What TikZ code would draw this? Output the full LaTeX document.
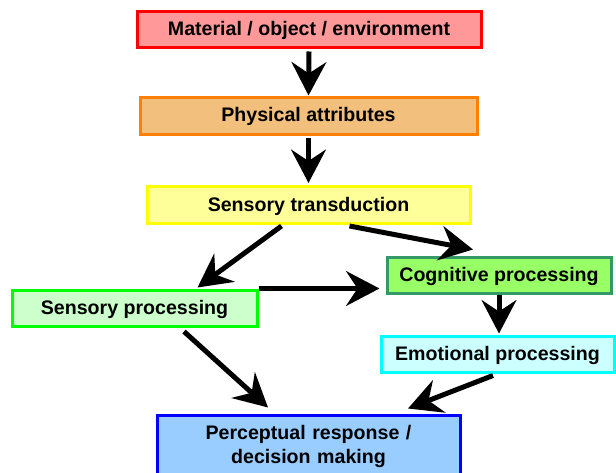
\documentclass[tikz,border=0pt]{standalone}
\usepackage{fontspec}
\setmainfont{Liberation Sans}
\usetikzlibrary{arrows.meta, calc}
\definecolor{matfill}{HTML}{FF9999}
\definecolor{matline}{HTML}{FF0000}
\definecolor{physfill}{HTML}{F2BF7C}
\definecolor{physline}{HTML}{FF8000}
\definecolor{transfill}{HTML}{FFFF99}
\definecolor{transline}{HTML}{FFFF00}
\definecolor{sensfill}{HTML}{CCFFCC}
\definecolor{sensline}{HTML}{00FF00}
\definecolor{cogfill}{HTML}{99FF66}
\definecolor{cogline}{HTML}{339966}
\definecolor{emofill}{HTML}{CCFFFF}
\definecolor{emoline}{HTML}{00FFFF}
\definecolor{percfill}{HTML}{99CCFF}
\definecolor{percline}{HTML}{0000FF}
\tikzstyle{box} = [rectangle, line width=2.25pt, minimum height=27pt, inner sep=0pt,
text height=11pt, text depth=2pt,
text centered, font=\fontsize{14.7}{18}\selectfont\bfseries]
\tikzstyle{arrow} = [line width=3.75pt, -{Stealth[length=25pt, width=26pt, inset=8.5pt]}]

\begin{document}
\begin{tikzpicture}[x=0.75pt, y=0.75pt]
\useasboundingbox (0,0) rectangle (616,472);

\node (mat) [box, fill=matfill, draw=matline, minimum width=258pt] at (309,442) {Material / object / environment};
\node (phys) [box, fill=physfill, draw=physline, minimum width=252.75pt] at (308.5,356) {Physical attributes};
\node (trans) [box, fill=transfill, draw=transline, minimum width=242.25pt, minimum height=27.75pt] at (308.5,267) {Sensory transduction};
\node (cog) [box, fill=cogfill, draw=cogline, minimum width=168pt] at (499,197) {Cognitive processing};
\node (sens) [box, fill=sensfill, draw=sensline, minimum width=183.75pt] at (134.5,164) {Sensory processing};
\node (emo) [box, fill=emofill, draw=emoline, minimum width=174.75pt] at (497.5,118) {Emotional processing};
\node (perc) [box, fill=percfill, draw=percline, minimum width=227.25pt, minimum height=45pt,
  text width=220pt, align=center, text height=11pt, text depth=19.5pt] at (308.5,27) {Perceptual response /\\ decision making};

\draw [arrow] ($(mat.south)+(0,-2)$) -- ($(phys.north)+(0,1)$);
\draw [arrow] ($(phys.south)+(0,-2)$) -- ($(trans.north)+(0,2)$);
\draw [arrow] ($(trans.south)+(-27,-1)$) -- ($(sens.north)+(63,1)$);
\draw [arrow] ($(trans.south)+(41,-1)$) -- ($(cog.north)+(-26,6)$);
\draw [arrow] (sens.north east) -- ($(sens.north east -| cog.west)+(-6,0)$);
\draw [arrow] (cog.south) -- ($(cog.south |- emo.north)+(0,1)$);
\draw [arrow] ($(sens.south)+(49.5,-4)$) -- ($(perc.north)+(-40.5,6)$);
\draw [arrow] ($(emo.south)+(-4.5,-2)$) -- ($(perc.north)+(99.5,5)$);

\end{tikzpicture}
\end{document}
